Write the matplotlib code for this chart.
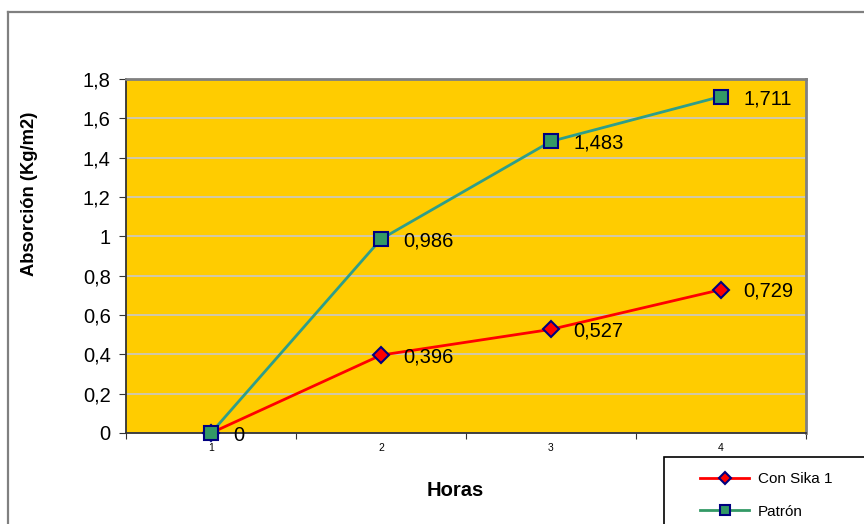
import matplotlib
matplotlib.use("Agg")
import matplotlib.pyplot as plt
from matplotlib.lines import Line2D
from matplotlib.patches import Rectangle
from matplotlib.ticker import FixedLocator, NullFormatter

plt.rcParams['font.family'] = ['Liberation Sans', 'DejaVu Sans']

horas = [1, 2, 3, 4]
con_sika = [0, 0.396, 0.527, 0.729]
patron = [0, 0.986, 1.483, 1.711]
labels_sika = ["0", "0,396", "0,527", "0,729"]
labels_patron = ["0", "0,986", "1,483", "1,711"]
yticks = [0, 0.2, 0.4, 0.6, 0.8, 1.0, 1.2, 1.4, 1.6, 1.8]
ytick_labels = ["0", "0,2", "0,4", "0,6", "0,8", "1", "1,2", "1,4", "1,6", "1,8"]

W, H = 864, 524
fig = plt.figure(figsize=(W / 100, H / 100), dpi=100)
fig.patch.set_facecolor('white')

# outer chart frame
fig.add_artist(Line2D([8 / W, 8 / W], [0, 1 - 12 / H], color='#808080', lw=1.6,
                      transform=fig.transFigure))
fig.add_artist(Line2D([8 / W, 1], [1 - 12 / H, 1 - 12 / H], color='#808080', lw=1.6,
                      transform=fig.transFigure))

ax = fig.add_axes([126 / W, 91 / H, 680 / W, 354 / H])
ax.set_facecolor('#FFCC00')
ax.set_xlim(0.5, 4.5)
ax.set_ylim(0, 1.8)

ax.set_yticks(yticks)
ax.set_yticklabels(ytick_labels, fontsize=14.5)
ax.yaxis.grid(True, color='#C8C8C8', lw=1.2)
ax.set_axisbelow(True)

ax.xaxis.set_major_locator(FixedLocator([0.5, 1.5, 2.5, 3.5, 4.5]))
ax.xaxis.set_major_formatter(NullFormatter())
ax.set_xticks(horas, minor=True)
ax.set_xticklabels([str(h) for h in horas], minor=True, fontsize=7.5)
ax.tick_params(axis='x', which='minor', length=0, pad=7)
ax.tick_params(axis='x', which='major', length=4, color='#333333', direction='out')
ax.tick_params(axis='y', length=5, color='#333333', direction='out', pad=6)

for s in ['top', 'right']:
    ax.spines[s].set_color('#808080')
    ax.spines[s].set_linewidth(2)
for s in ['left', 'bottom']:
    ax.spines[s].set_color('#333333')
    ax.spines[s].set_linewidth(1.3)

line_color_p = '#2E9E8A'
ax.plot(horas, con_sika, color='#FF0000', lw=2, marker='D', markersize=8,
        markerfacecolor='#FF0000', markeredgecolor='#000080', markeredgewidth=1.5,
        zorder=3, clip_on=False)
ax.plot(horas, patron, color=line_color_p, lw=2, marker='s', markersize=9.5,
        markerfacecolor='#339966', markeredgecolor='#000080', markeredgewidth=1.5,
        zorder=4, clip_on=False)

for x, y, t in zip(horas, con_sika, labels_sika):
    if t == "0":
        continue
    ax.annotate(t, (x, y), xytext=(16, -1), textcoords='offset points',
                ha='left', va='center', fontsize=14.5)
for x, y, t in zip(horas, patron, labels_patron):
    ax.annotate(t, (x, y), xytext=(16, -1.5), textcoords='offset points',
                ha='left', va='center', fontsize=14.5)

fig.text(30 / W, 1 - 194 / H, "Absorción (Kg/m2)", rotation=90, ha='center', va='center',
         fontsize=13.2, fontweight='bold')
fig.text(455 / W, 1 - 490 / H, "Horas", ha='center', va='center',
         fontsize=14.5, fontweight='bold')

# legend box
fig.add_artist(Rectangle((664 / W, -0.05), 0.3, (1 - 457 / H) + 0.05, transform=fig.transFigure,
                         facecolor='white', edgecolor='black', lw=1.2))
handles = [
    Line2D([], [], color='#FF0000', lw=2, marker='D', markersize=6,
           markerfacecolor='#FF0000', markeredgecolor='#000080', markeredgewidth=1.5),
    Line2D([], [], color='#339966', lw=2, marker='s', markersize=7,
           markerfacecolor='#339966', markeredgecolor='#000080', markeredgewidth=1.5),
]
leg = fig.legend(handles, ["Con Sika 1", "Patrón"], loc='upper left',
                 bbox_to_anchor=(688 / W, 1 - 460 / H), frameon=False, fontsize=11,
                 handlelength=3.2, handletextpad=0.55, labelspacing=1.2, borderpad=0.3)

fig.savefig("out.png", dpi=100)
